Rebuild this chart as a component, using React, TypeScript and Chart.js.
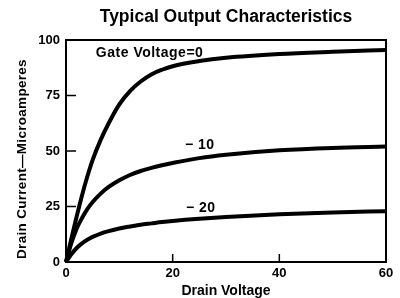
import React, { useEffect, useRef } from "react";
import { Chart, registerables } from "chart.js";

Chart.register(...registerables);

const drainVoltage = [0, 1, 2, 3, 4, 5, 6.5, 8, 10, 12, 14, 16, 18, 20, 25, 30, 40, 50, 60];
const gate0 = [0, 10.5, 20.5, 30, 38.5, 46, 55, 62.5, 71, 77, 81.3, 84.5, 86.6, 88.2, 90.5, 92, 93.7, 94.7, 95.5];
const gate10 = [0, 8.5, 15, 19.8, 23.8, 27, 30.8, 33.8, 36.8, 39.2, 41, 42.4, 43.6, 44.6, 46.8, 48.3, 50.3, 51.4, 52];
const gate20 = [0, 3.5, 6.3, 8.4, 10, 11.3, 12.8, 13.9, 15.1, 16, 16.8, 17.4, 18, 18.5, 19.5, 20.3, 21.5, 22.3, 22.9];

const xTicks = [0, 20, 40, 60];
const yTicks = [0, 25, 50, 75, 100];

const seriesLabels = ["Gate Voltage=0", "\u2212 10", "\u2212 20"];

const titleText = "Typical Output Characteristics";
const xTitle = "Drain Voltage";
const yTitle = "Drain Current\u2014Microamperes";

const FONT = "'Liberation Sans', Arial, Helvetica, sans-serif";

const framePlugin = {
  id: "framePlugin",
  afterDraw(chart: any) {
    const { ctx, chartArea } = chart;
    const xs = chart.scales.x;
    const ys = chart.scales.y;
    ctx.save();
    ctx.strokeStyle = "#000";
    ctx.lineWidth = 2;
    ctx.strokeRect(chartArea.left, chartArea.top, chartArea.right - chartArea.left, chartArea.bottom - chartArea.top);
    ctx.lineWidth = 1.5;
    ctx.beginPath();
    yTicks.slice(1, -1).forEach((v) => {
      const py = ys.getPixelForValue(v);
      ctx.moveTo(chartArea.left, py);
      ctx.lineTo(chartArea.left + 10, py);
    });
    xTicks.slice(1, -1).forEach((v) => {
      const px = xs.getPixelForValue(v);
      ctx.moveTo(px, chartArea.bottom);
      ctx.lineTo(px, chartArea.bottom - 8);
    });
    ctx.stroke();

    // series labels
    ctx.fillStyle = "#000";
    ctx.textBaseline = "middle";
    ctx.textAlign = "left";
    ctx.font = `bold 14px ${FONT}`;
    try { (ctx as any).letterSpacing = "0.5px"; } catch (e) {}
    const labelPos = [
      [5.6, 94],
      [22.3, 52.5],
      [22.5, 24.4],
    ];
    seriesLabels.forEach((t, i) => {
      ctx.fillText(t, xs.getPixelForValue(labelPos[i][0]), ys.getPixelForValue(labelPos[i][1]));
    });

    // y axis title
    ctx.font = `bold 13.5px ${FONT}`;
    try { (ctx as any).letterSpacing = "0.3px"; } catch (e) {}
    ctx.translate(22, 159);
    ctx.rotate(-Math.PI / 2);
    ctx.textAlign = "center";
    ctx.fillText(yTitle, 0, 0);
    ctx.restore();
  },
};

export default function App() {
  const ref = useRef<HTMLCanvasElement>(null);
  useEffect(() => {
    if (!ref.current) return;
    Chart.defaults.font.family = FONT;
    const mk = (vals: number[]) => drainVoltage.map((x, i) => ({ x, y: vals[i] }));
    const ds = (label: string, vals: number[]) => ({
      label,
      data: mk(vals),
      borderColor: "#000",
      backgroundColor: "#000",
      borderWidth: 4,
      pointRadius: 0,
      cubicInterpolationMode: "monotone" as const,
      fill: false,
      clip: false as any,
    });
    const chart = new Chart(ref.current, {
      type: "line",
      data: {
        datasets: [ds(seriesLabels[0], gate0), ds(seriesLabels[1], gate10), ds(seriesLabels[2], gate20)],
      },
      plugins: [framePlugin],
      options: {
        animation: false,
        responsive: false,
        events: [],
        layout: { padding: { left: 0, right: 14, top: 0, bottom: 0 } },
        plugins: {
          legend: { display: false },
          tooltip: { enabled: false },
          title: {
            display: true,
            text: titleText,
            fullSize: false,
            color: "#000",
            font: { size: 17.5, weight: "bold", family: FONT },
            padding: { top: 7, bottom: 12 },
          },
        },
        scales: {
          x: {
            type: "linear",
            min: 0,
            max: 60,
            afterFit: (s: any) => { s.height = 36; },
            afterBuildTicks: (s: any) => { s.ticks = xTicks.map((v) => ({ value: v })); },
            grid: { display: false, drawTicks: false },
            border: { display: false },
            ticks: { color: "#000", font: { size: 13, weight: "bold" }, padding: 4, maxRotation: 0 },
            title: {
              display: true,
              text: xTitle,
              color: "#000",
              font: { size: 14, weight: "bold" },
              padding: { top: 0, bottom: -2 },
            },
          },
          y: {
            type: "linear",
            min: 0,
            max: 100,
            afterFit: (s: any) => { s.width = 66; },
            afterBuildTicks: (s: any) => { s.ticks = yTicks.map((v) => ({ value: v })); },
            grid: { display: false, drawTicks: false },
            border: { display: false },
            ticks: { color: "#000", font: { size: 13, weight: "bold" }, padding: 6 },
          },
        },
      },
    });
    return () => chart.destroy();
  }, []);
  return (
    <div style={{ position: "fixed", left: 0, top: 0, width: 400, height: 298, background: "#fff" }}>
      <canvas ref={ref} width={400} height={298} style={{ width: 400, height: 298 }} />
    </div>
  );
}
